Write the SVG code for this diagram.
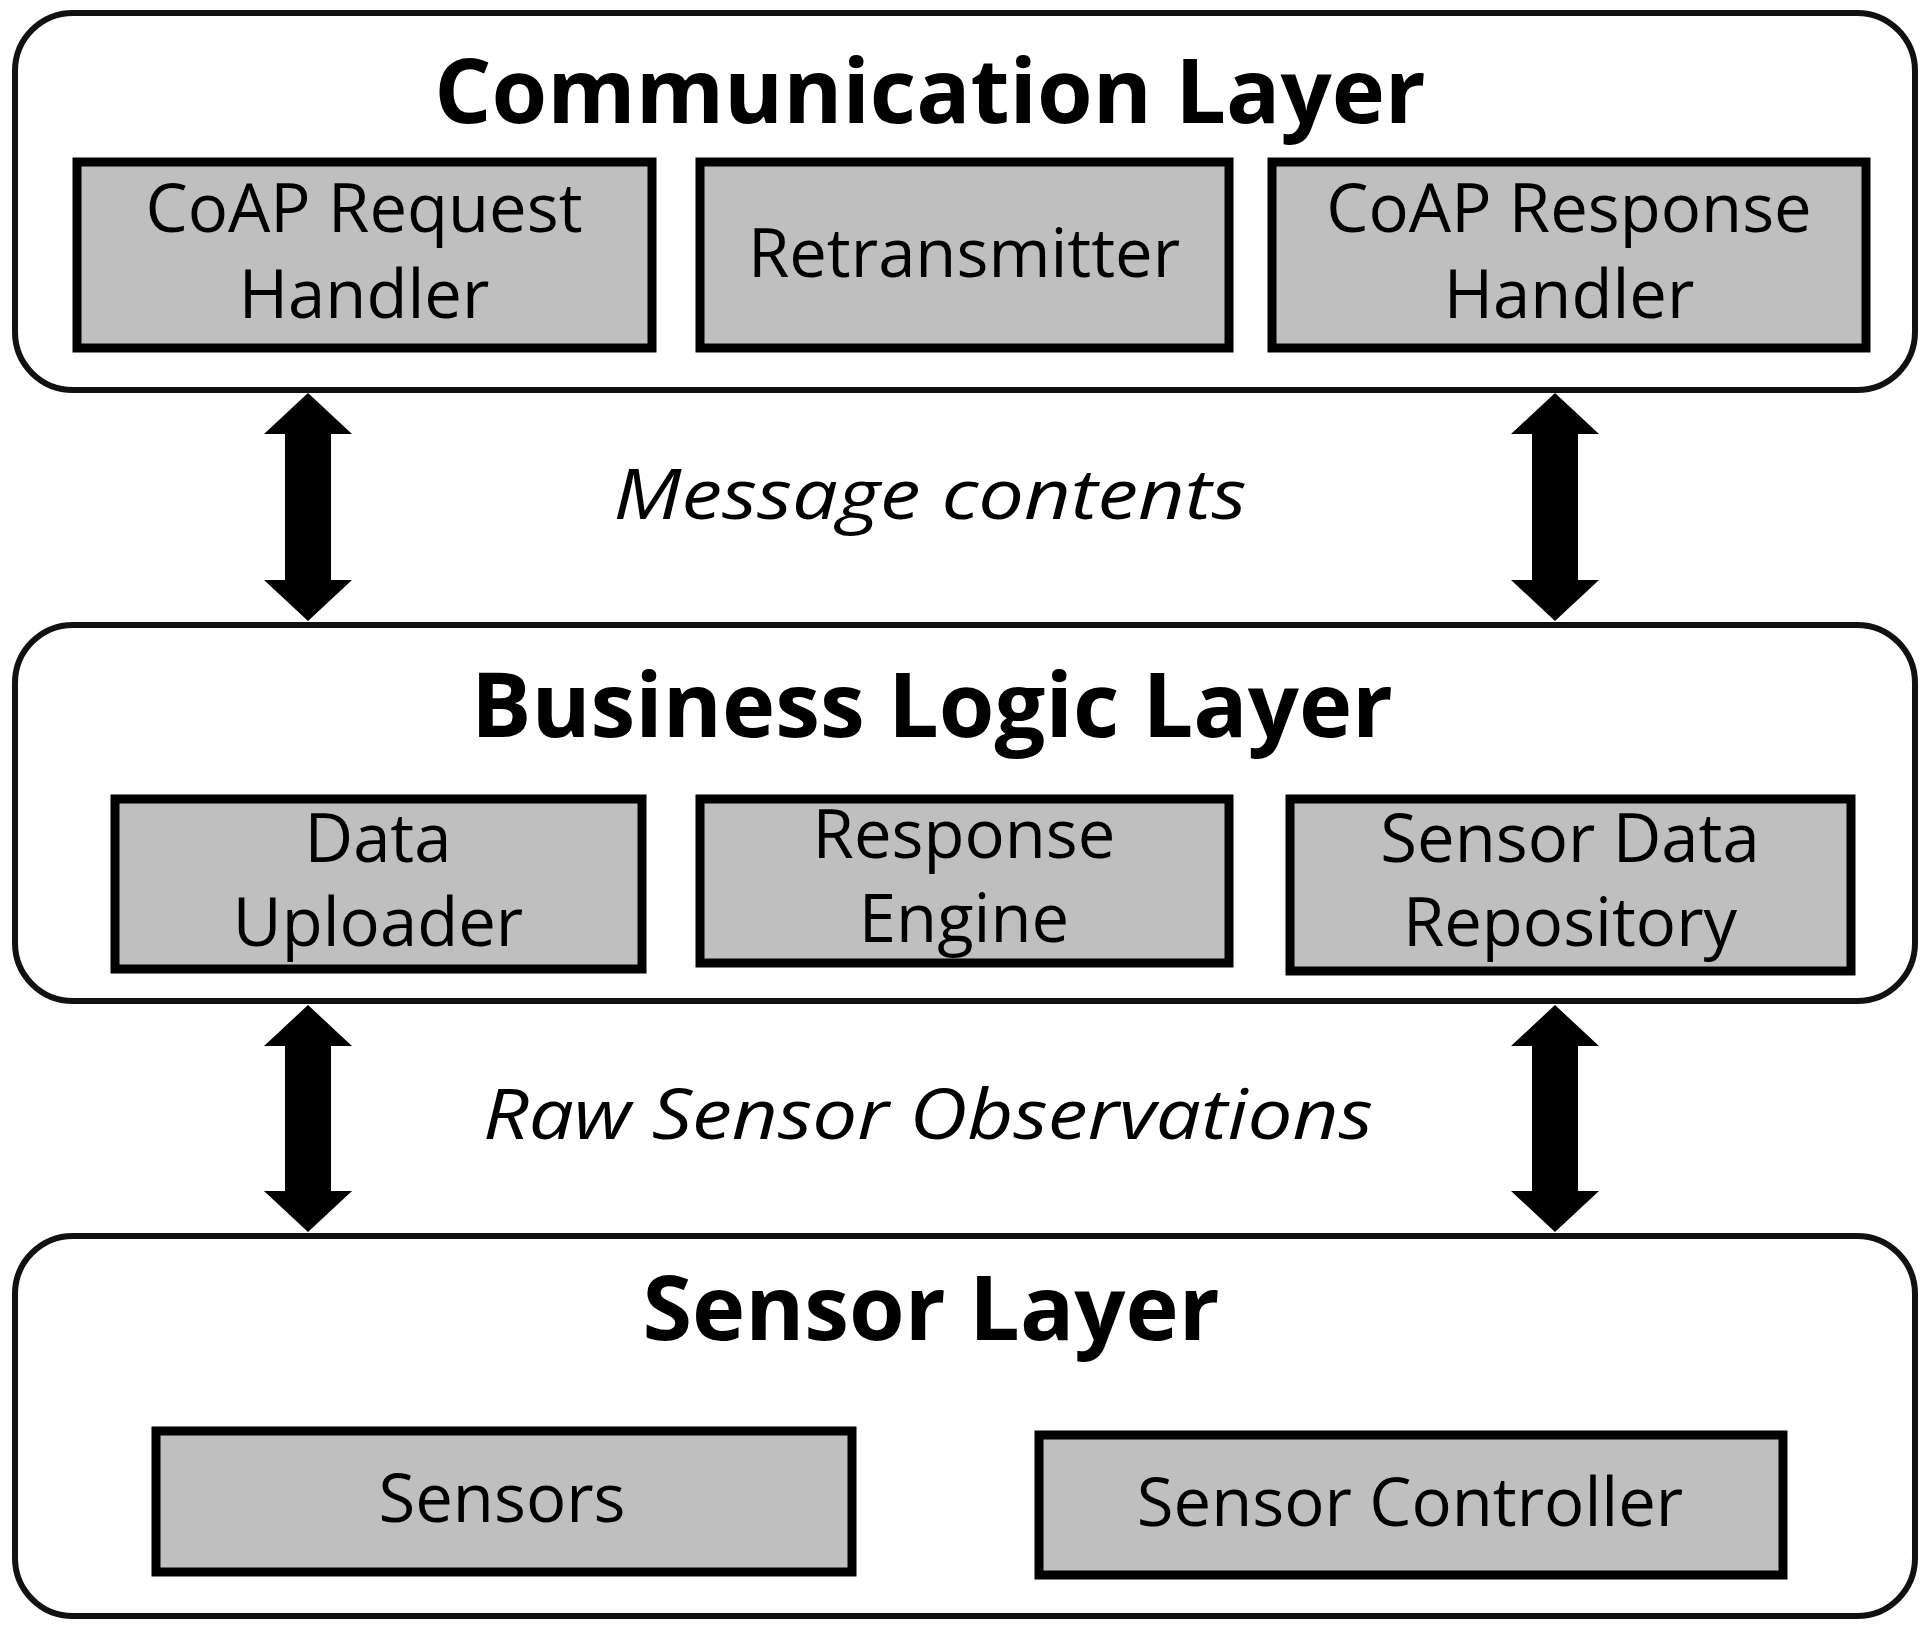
<svg xmlns="http://www.w3.org/2000/svg" width="1927" height="1634" viewBox="0 0 1927 1634">
<style>
.layer{fill:#fff;stroke:#111;stroke-width:6}
.box{fill:#bfbfbf;stroke:#000;stroke-width:9}
.title{font-family:"Open Sans","Liberation Sans",sans-serif;font-weight:bold;font-size:90px;fill:#000;text-anchor:middle}
.lbl{font-family:"Open Sans","Liberation Sans",sans-serif;font-size:67px;fill:#000;text-anchor:middle}
.it{font-family:"Open Sans","Liberation Sans",sans-serif;font-style:italic;font-size:70px;fill:#000;text-anchor:middle}
.arr{fill:#000}
</style>
<rect width="1927" height="1634" fill="#fff"/>
<g id="communication-layer">
<rect class="layer" x="15" y="13" width="1900" height="377" rx="58"/>
<text class="title" x="930" y="123">Communication Layer</text>
</g>
<g id="coap-request-handler">
<rect class="box" x="77" y="162" width="575" height="186"/>
<text class="lbl" x="364" y="232">CoAP Request</text>
<text class="lbl" x="364" y="318">Handler</text>
</g>
<g id="retransmitter">
<rect class="box" x="700" y="162" width="529" height="186"/>
<text class="lbl" x="964" y="277">Retransmitter</text>
</g>
<g id="coap-response-handler">
<rect class="box" x="1272" y="162" width="594" height="186"/>
<text class="lbl" x="1569" y="232">CoAP Response</text>
<text class="lbl" x="1569" y="318">Handler</text>
</g>
<g id="business-logic-layer">
<rect class="layer" x="15" y="625" width="1900" height="376" rx="58"/>
<text class="title" x="932" y="737">Business Logic Layer</text>
</g>
<g id="data-uploader">
<rect class="box" x="115" y="799" width="527" height="170"/>
<text class="lbl" x="378" y="862">Data</text>
<text class="lbl" x="378" y="946">Uploader</text>
</g>
<g id="response-engine">
<rect class="box" x="700" y="799" width="529" height="164"/>
<text class="lbl" x="964" y="858">Response</text>
<text class="lbl" x="964" y="942">Engine</text>
</g>
<g id="sensor-data-repository">
<rect class="box" x="1290" y="799" width="561" height="172"/>
<text class="lbl" x="1570" y="862">Sensor Data</text>
<text class="lbl" x="1570" y="946">Repository</text>
</g>
<g id="sensor-layer">
<rect class="layer" x="15" y="1236" width="1900" height="380" rx="58"/>
<text class="title" x="931" y="1340">Sensor Layer</text>
</g>
<g id="sensors">
<rect class="box" x="156" y="1431" width="696" height="141"/>
<text class="lbl" x="502" y="1522">Sensors</text>
</g>
<g id="sensor-controller">
<rect class="box" x="1039" y="1435" width="744" height="140"/>
<text class="lbl" x="1410" y="1526">Sensor Controller</text>
</g>
<g id="connectors">
<path class="arr" d="M308 393 L352 434 L331 434 L331 580 L352 580 L308 621 L264 580 L285 580 L285 434 L264 434 Z"/>
<path class="arr" d="M1555 393 L1599 434 L1578 434 L1578 580 L1599 580 L1555 621 L1511 580 L1532 580 L1532 434 L1511 434 Z"/>
<path class="arr" d="M308 1005 L352 1046 L331 1046 L331 1191 L352 1191 L308 1232 L264 1191 L285 1191 L285 1046 L264 1046 Z"/>
<path class="arr" d="M1555 1005 L1599 1046 L1578 1046 L1578 1191 L1599 1191 L1555 1232 L1511 1191 L1532 1191 L1532 1046 L1511 1046 Z"/>
<text class="it" x="930" y="519" textLength="633" lengthAdjust="spacingAndGlyphs">Message contents</text>
<text class="it" x="928" y="1139" textLength="890" lengthAdjust="spacingAndGlyphs">Raw Sensor Observations</text>
</g>
</svg>
